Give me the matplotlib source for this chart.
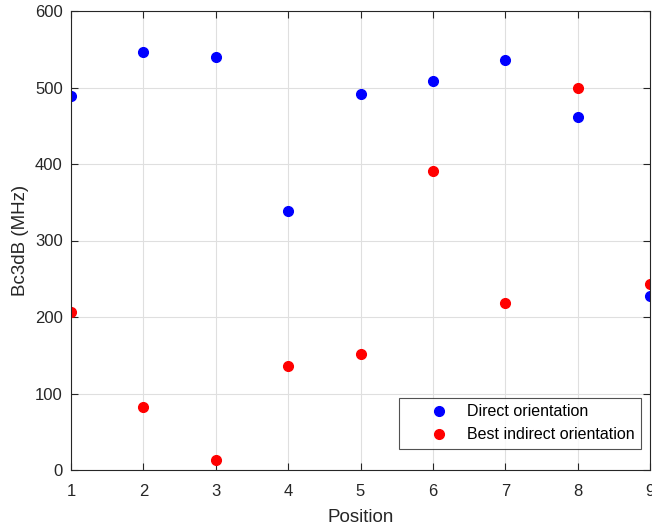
import matplotlib.pyplot as plt

plt.rcParams['font.family'] = ['Liberation Sans', 'DejaVu Sans']

positions = [1, 2, 3, 4, 5, 6, 7, 8, 9]
direct = [489, 547, 540, 339, 491, 508, 536, 462, 227]
indirect = [207, 83, 13, 136, 151, 391, 218, 499, 243]

fig = plt.figure(figsize=(6.52, 5.29), dpi=100)
ax = fig.add_axes([71 / 652, 1 - 470 / 529, 579 / 652, 459 / 529])

ax.plot(positions, direct, 'o', color='#0000ff', markersize=7, label='Direct orientation')
ax.plot(positions, indirect, 'o', color='#ff0000', markersize=7, label='Best indirect orientation')

ax.set_xlim(1, 9)
ax.set_ylim(0, 600)
ax.set_xticks(range(1, 10))
ax.set_yticks(range(0, 601, 100))
ax.grid(True, color='#dfdfdf', linewidth=0.8)
ax.set_axisbelow(True)
ax.tick_params(direction='in', length=5, colors='#262626', labelsize=12,
               top=True, right=True, pad=6)
ax.tick_params(axis='x', pad=10)
for s in ax.spines.values():
    s.set_color('#262626')
    s.set_linewidth(0.8)

ax.set_xlabel('Position', fontsize=13.5, color='#262626', labelpad=7)
ax.set_ylabel('Bc3dB (MHz)', fontsize=13.5, color='#262626', labelpad=4)

leg = ax.legend(loc='lower right', bbox_to_anchor=(0.998, 0.028), fontsize=11.5,
                frameon=True, fancybox=False, edgecolor='#262626',
                handlelength=4.1, handletextpad=-0.3, borderpad=0.42,
                labelspacing=0.5)
leg.get_frame().set_linewidth(0.8)

fig.savefig('out.png', dpi=100)
